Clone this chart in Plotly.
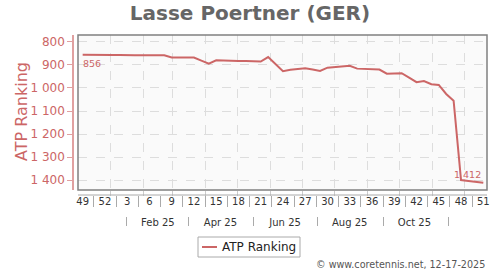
import pandas as pd
import plotly.graph_objects as go

# ---- data ----
rank = [856, 857, 857, 857, 857, 857, 856, 858, 858, 858, 858, 858, 868, 868, 868, 868,
        881, 894, 880, 882, 883, 883, 883, 884, 885, 866, 897, 927, 921, 916, 914, 920,
        926, 912, 909, 906, 904, 916, 917, 918, 920, 938, 937, 936, 955, 975, 970, 984,
        987, 1026, 1055, 1400, 1404, 1408, 1412]
start_date = "2024-12-06"
y_tickvals = [800, 900, 1000, 1100, 1200, 1300, 1400]
y_ticktext = ["800", "900", "1 000", "1 100", "1 200", "1 300", "1 400"]
month_labels = ["Feb 25", "Apr 25", "Jun 25", "Aug 25", "Oct 25"]
month_label_months = [2, 4, 6, 8, 10]
month_sep_months = [1, 3, 5, 7, 9, 11]
series_name = "ATP Ranking"

dates = pd.date_range(start_date, periods=len(rank), freq="7D")
weeks = [int(d.isocalendar().week) for d in dates]
wk_idx = list(range(0, len(dates), 3))
wk_vals = [dates[i] for i in wk_idx]
wk_text = [str(weeks[i]) for i in wk_idx]
wk_seps = [dates[i] + pd.Timedelta(days=10.5) for i in wk_idx[:-1]]
mo_vals = [pd.Timestamp(2025, m, 15) for m in month_label_months]
mo_seps = [pd.Timestamp(2025, m, 16) for m in month_sep_months]

RED = "#cc6666"
FONT = "DejaVu Sans"
W, H = 500, 270
ML, MR, MT, MB = 73, 13, 35, 42
PH = H - MT - MB
PW = W - ML - MR

def py(pix):
    return (H - MB - pix) / PH

def px(pix):
    return (pix - ML) / PW

xrange = [dates[0] - pd.Timedelta(days=4.4), dates[-1] + pd.Timedelta(days=3.5)]
xdom = [5 / PW, 1]

fig = go.Figure()
fig.add_trace(go.Scatter(x=dates, y=rank, mode="lines", name=series_name,
                         line=dict(color=RED, width=2), hoverinfo="skip", showlegend=False))
for ax in ["x2", "x3", "x4", "x5"]:
    fig.add_trace(go.Scatter(x=[dates[0]], y=[None], xaxis=ax, yaxis="y",
                             showlegend=False, hoverinfo="skip", mode="lines"))

imin = rank.index(min(rank))
imax = rank.index(max(rank))
fig.add_annotation(x=dates[imin], y=rank[imin], text=f"{rank[imin]}", showarrow=False,
                   xanchor="left", yanchor="top", yshift=-1, xshift=-2,
                   font=dict(family=FONT, size=9.5, color=RED))
fig.add_annotation(x=dates[imax], y=rank[imax], text=f"{rank[imax]:,}".replace(",", " "),
                   showarrow=False, xanchor="right", yanchor="bottom", yshift=1,
                   font=dict(family=FONT, size=9.5, color=RED))

# y-axis title
fig.add_annotation(xref="paper", yref="paper", x=px(21), y=py(112), xanchor="center",
                   yanchor="middle", text=series_name, textangle=-90, showarrow=False,
                   font=dict(family=FONT, size=16, color=RED))

fig.add_annotation(xref="paper", yref="paper", x=1, y=py(264.5), xanchor="right",
                   yanchor="middle", text="© www.coretennis.net, 12-17-2025",
                   showarrow=False, font=dict(family=FONT, size=9.6, color="#555"))

# legend (drawn manually to match the compact original)
fig.add_shape(type="rect", xref="paper", yref="paper", x0=px(198), x1=px(300),
              y0=py(257), y1=py(237), line=dict(color="#aaaaaa", width=1), fillcolor="white")
fig.add_shape(type="line", xref="paper", yref="paper", x0=px(202), x1=px(217),
              y0=py(247), y1=py(247), line=dict(color=RED, width=2))
fig.add_annotation(xref="paper", yref="paper", x=px(220), y=py(247), xanchor="left",
                   yanchor="middle", text=series_name, showarrow=False,
                   font=dict(family=FONT, size=12, color="#222"))

# plot frame
fig.add_shape(type="rect", xref="x domain", yref="y domain", x0=0, x1=1, y0=0, y1=1,
              line=dict(color="#808080", width=1.5))
fig.add_shape(type="line", xref="x domain", yref="paper", x0=0, x1=1, y0=py(195), y1=py(195),
              line=dict(color="#aaaaaa", width=1))

common = dict(type="date", range=xrange, domain=xdom, showgrid=False, zeroline=False,
              automargin=False)
fig.update_layout(
    width=W, height=H,
    margin=dict(l=ML, r=MR, t=MT, b=MB),
    paper_bgcolor="white", plot_bgcolor="#fafafa",
    font=dict(family=FONT),
    title=dict(text="<b>Lasse Poertner (GER)</b>", x=0.5, xanchor="center",
               y=1 - 12.5 / H, yanchor="middle",
               font=dict(family=FONT, size=20, color="#666666")),
    showlegend=False,
    xaxis=dict(type="date", range=xrange, domain=xdom, anchor="y", automargin=False,
               tickmode="linear", tick0="2025-01-01", dtick="M1",
               showgrid=True, griddash="dash", gridcolor="#dddddd", gridwidth=1,
               ticks="outside", ticklen=5, tickcolor="#cccccc",
               showticklabels=False, showline=False, zeroline=False),
    xaxis2=dict(**common, overlaying="x", anchor="free", position=py(194), matches="x",
                tickmode="array", tickvals=wk_vals, ticktext=wk_text, ticks="",
                tickfont=dict(family=FONT, size=10, color="#333")),
    xaxis3=dict(**common, overlaying="x", anchor="free", position=py(195), matches="x",
                tickmode="array", tickvals=wk_seps, ticks="outside", ticklen=11,
                tickcolor="#aaaaaa", showticklabels=False),
    xaxis4=dict(**common, overlaying="x", anchor="free", position=py(214.5), matches="x",
                tickmode="array", tickvals=mo_vals, ticktext=month_labels, ticks="",
                tickfont=dict(family=FONT, size=10, color="#333")),
    xaxis5=dict(**common, overlaying="x", anchor="free", position=py(215.5), matches="x",
                tickmode="array", tickvals=mo_seps, ticks="outside", ticklen=9,
                tickcolor="#aaaaaa", showticklabels=False),
    yaxis=dict(range=[1443, 770], domain=[py(190), 1], anchor="free", position=0,
               automargin=False,
               tickmode="array", tickvals=y_tickvals, ticktext=y_ticktext,
               showgrid=True, griddash="dash", gridcolor="#dddddd",
               showline=True, linecolor="#e0a0a0", linewidth=1.5,
               ticks="outside", ticklen=5, tickcolor="#e0a0a0",
               tickfont=dict(family=FONT, size=12, color=RED),
               zeroline=False),
)
fig.write_html("out.html")
